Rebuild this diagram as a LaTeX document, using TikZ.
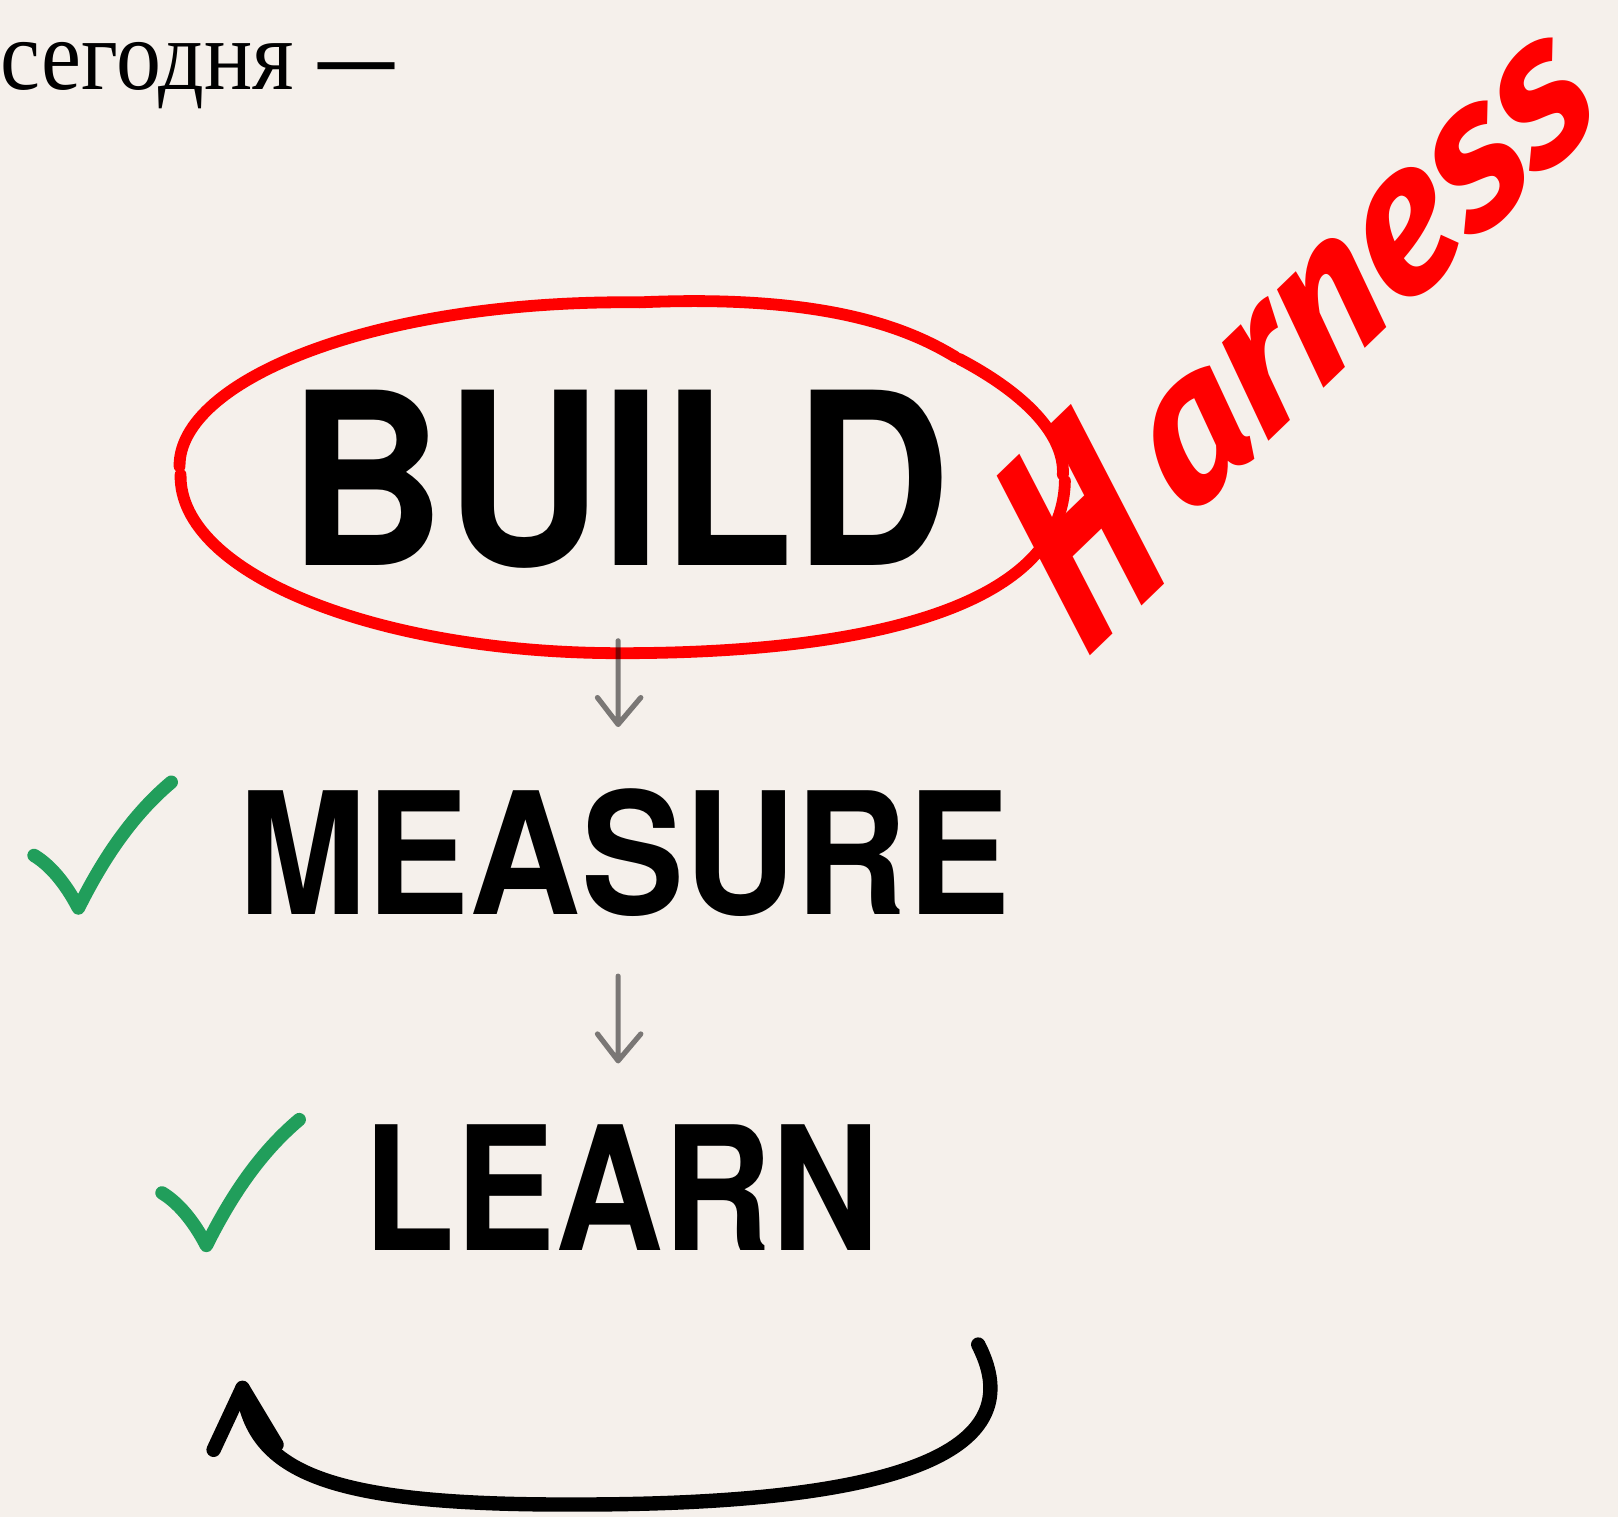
\documentclass[tikz,border=0pt]{standalone}
\usepackage{fontspec}
\usepackage{graphicx}
\setmainfont{Liberation Serif}
\newfontfamily\grotesk{TeX Gyre Heros}
\newfontfamily\scrawl{Fira Sans}

\definecolor{paper}{HTML}{F5F0EB}
\definecolor{marker}{HTML}{FF0000}
\definecolor{tickgreen}{HTML}{219E5B}

\tikzset{
    word/.style={inner sep=0pt, outer sep=0pt, anchor=north west, font=\grotesk\bfseries},
    ring/.style={draw=marker, line width=5.9pt, line cap=round, line join=round},
    flow/.style={draw=black, draw opacity=0.5, line width=2.6pt, line cap=round, line join=round},
    tick/.style={draw=tickgreen, line width=6.7pt, line cap=round, line join=round},
    backarrow/.style={draw=black, line width=7.2pt, line cap=round, line join=round}
}

\begin{document}
\begin{tikzpicture}[x=0.516pt, y=-0.516pt]
        \fill[paper] (0,0) rectangle (1568,1470);
        \useasboundingbox (0,0) rectangle (1568,1470);

        \node[anchor=base west, inner sep=0pt, font=\fontsize{50}{60}\selectfont] (today) at (0,87)
            {\scalebox{0.9}[1]{сегодня} \scalebox{0.76}[1]{\textbf{—}}};

        \node[word] (build) at (280,378) {\resizebox{330.7pt}{87.7pt}{BUILD}};
        \node[word] (measure) at (231,764) {\resizebox{386pt}{62.9pt}{MEASURE}};
        \node[word] (learn) at (352.5,1090) {\resizebox{258pt}{62.9pt}{LEARN}};

        % ring round BUILD
        \draw[ring] (620,293) .. controls (800,285) and (880,318) .. (926,346)
            (930,348) .. controls (1000,385) and (1032,425) .. (1030,460)
            (1032,466) .. controls (1030,585) and (850,633) .. (601,633)
            .. controls (365,633) and (173,556) .. (175,460)
            (174,452) .. controls (173,368) and (365,290) .. (620,293);

        \node[anchor=base west, inner sep=0pt, text=marker, font=\scrawl\bfseries\itshape\fontsize{97}{97}\selectfont,
            rotate=44, xslant=0.2] (harness) at (1037,614)
            {\raisebox{-15pt}{\scalebox{0.7}[1]{\fontsize{140}{140}\selectfont H}}\,arness};

        % arrows between the steps
        \coordinate (f1a) at (599,621);
        \coordinate (f1b) at (599,702);
        \coordinate (f2a) at (599,946);
        \coordinate (f2b) at (599,1028);
        \draw[flow] (f1a) -- (f1b) -- +(-20,-26) (f1b) -- +(22,-26);
        \draw[flow] (f2a) -- (f2b) -- +(-20,-26) (f2b) -- +(22,-26);

        % ticks
        \draw[tick] (33,829) .. controls (48,838) and (63,855) .. (76,880)
            .. controls (100,832) and (128,790) .. (166,758);
        \draw[tick] (157,1156) .. controls (172,1165) and (187,1182) .. (200,1207)
            .. controls (224,1159) and (252,1117) .. (290,1085);

        % back to the start
        \coordinate (backstart) at (948,1303);
        \coordinate (backtip) at (235,1345);
        \draw[backarrow] (backstart) .. controls (985,1375) and (955,1458) .. (560,1458)
            .. controls (320,1459) and (245,1428) .. (backtip);
        \draw[backarrow] (207,1405) -- (backtip) -- (268,1400);
\end{tikzpicture}
\end{document}
